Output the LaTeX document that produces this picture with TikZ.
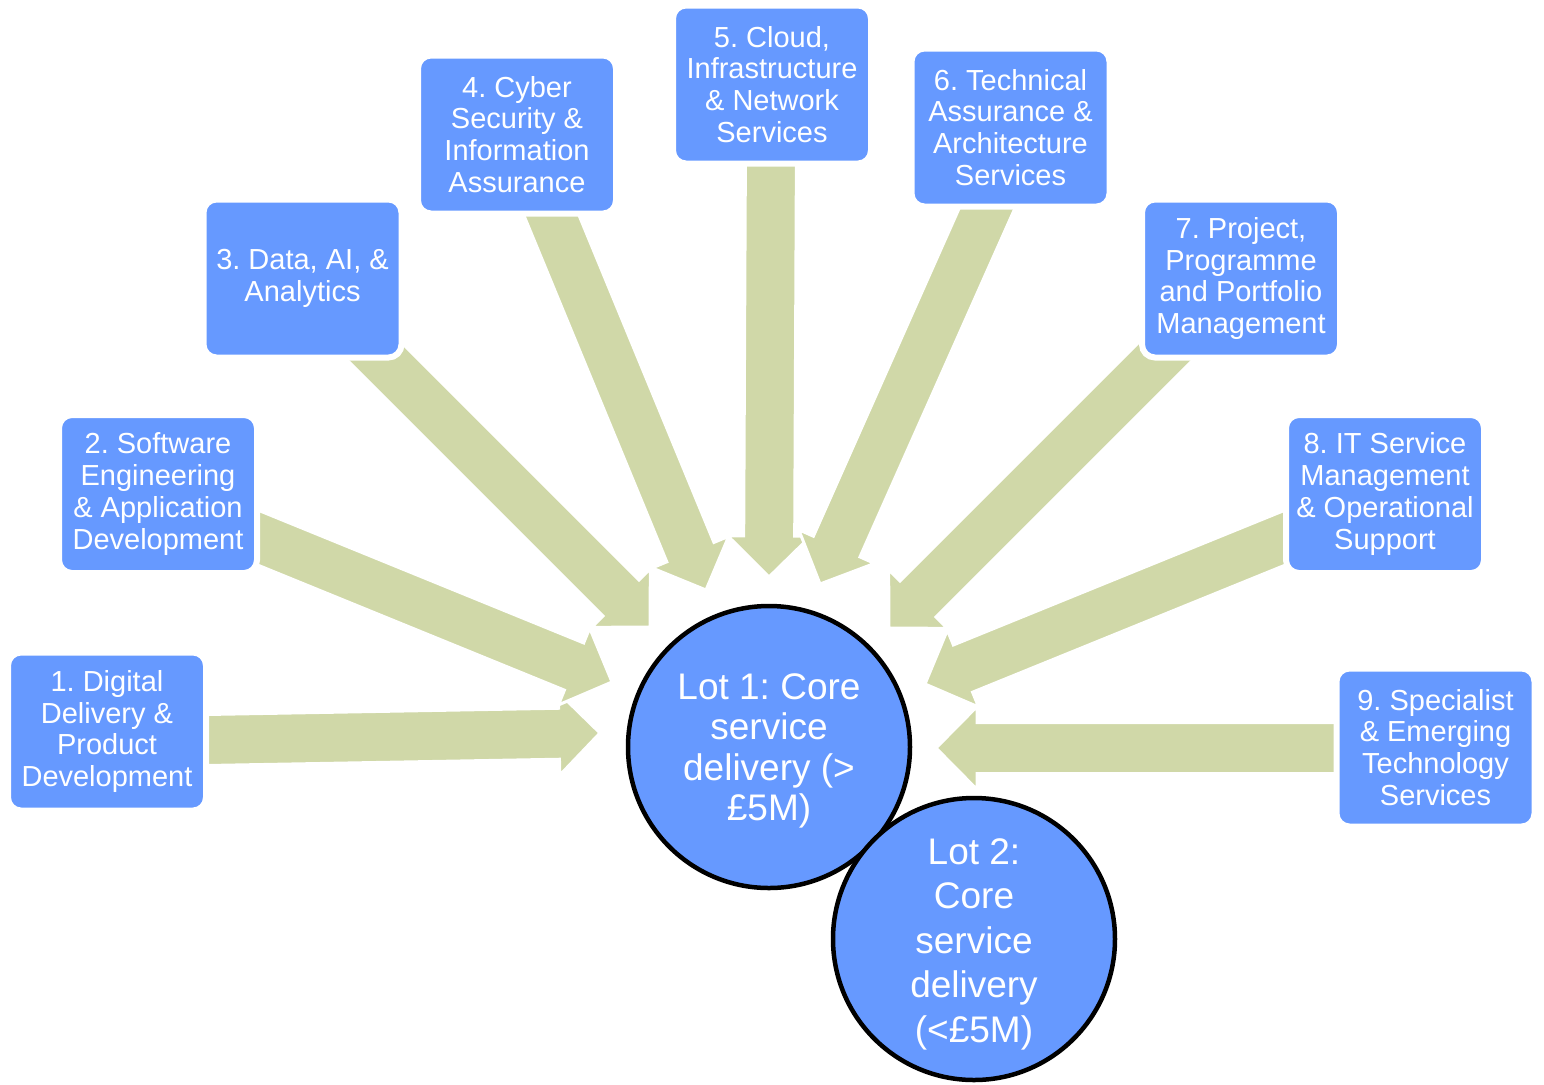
\documentclass[tikz,border=0pt]{standalone}
\usepackage{fontspec}
\setmainfont{Liberation Sans}
\usetikzlibrary{calc,backgrounds}

\definecolor{lotblue}{RGB}{102,153,255}
\definecolor{arrowgreen}{RGB}{208,216,168}

\begin{document}
\frenchspacing
\begin{tikzpicture}[x=0.5pt,y=-0.5pt,
  servicebox/.style={rectangle, rounded corners=6.5pt, fill=lotblue, draw=white,
    line width=3pt, minimum width=99pt, minimum height=79pt, inner sep=0pt,
    align=center, text=white, font=\fontsize{14.5}{15.9}\selectfont},
  lotcircle/.style={circle, fill=lotblue, draw=black, line width=2.25pt,
    minimum size=141pt, inner sep=0pt},
  lottext/.style={align=center, text=white, inner sep=0pt},
  fatarrow/.style={fill=arrowgreen, draw=white, line width=1.5pt, line join=miter,
    to path={
      ($(\tikztostart)!12.75pt!90:(\tikztotarget)$)
      -- ($(\tikztotarget)!24.14pt!-31.88:(\tikztostart)$)
      -- ($(\tikztotarget)!29.17pt!-45.35:(\tikztostart)$)
      -- (\tikztotarget)
      -- ($(\tikztotarget)!29.17pt!45.35:(\tikztostart)$)
      -- ($(\tikztotarget)!24.14pt!31.88:(\tikztostart)$)
      -- ($(\tikztostart)!12.75pt!-90:(\tikztotarget)$)
      -- cycle}}]
\useasboundingbox (0,0) rectangle (1544,1084);

\node[servicebox] (digital) at (107,731.5) {1. Digital\\Delivery \&\\Product\\Development};
\node[servicebox] (software) at (158,494) {2. Software\\Engineering\\\& Application\\Development};
\node[servicebox] (data) at (302.5,278.5) {3. Data, AI, \&\\Analytics};
\node[servicebox] (cyber) at (517,134.5) {4. Cyber\\Security \&\\Information\\Assurance};
\node[servicebox] (cloud) at (772,84.5) {5. Cloud,\\Infrastructure\\\& Network\\Services};
\node[servicebox] (techassure) at (1010.5,127.5) {6. Technical\\Assurance \&\\Architecture\\Services};
\node[servicebox] (project) at (1241,278.5) {7. Project,\\Programme\\and Portfolio\\Management};
\node[servicebox] (itservice) at (1385,494) {8. IT Service\\Management\\\& Operational\\Support};
\node[servicebox] (specialist) at (1435.5,747.5) {9. Specialist\\\& Emerging\\Technology\\Services};

\node[lotcircle, label={[lottext, yshift=-2pt, font=\fontsize{18.5}{20.25}\selectfont]center:
  Lot 1: Core\\service\\delivery (>\\£5M)}] (lotone) at (769,747) {};
\node[lotcircle, label={[lottext, yshift=-2.5pt, font=\fontsize{18.5}{22.25}\selectfont]center:
  Lot 2:\\Core\\service\\delivery\\(<£5M)}] (lottwo) at (974,939) {};

\coordinate (tail1) at (150,741);    \coordinate (tip1) at (600,733);
\coordinate (tail2) at (200,514);    \coordinate (tip2) at (612,682);
\coordinate (tail3) at (360,337);    \coordinate (tip3) at (650,627);
\coordinate (tail4) at (541,190);    \coordinate (tip4) at (706,590);
\coordinate (tail5) at (771,140);    \coordinate (tip5) at (769,577);
\coordinate (tail6) at (997.4,185);  \coordinate (tip6) at (820,584);
\coordinate (tail7) at (1175,342);   \coordinate (tip7) at (889,628);
\coordinate (tail8) at (1310,527.5); \coordinate (tip8) at (925,684);
\coordinate (tail9) at (1360,748);   \coordinate (tip9) at (936,748);

\begin{scope}[on background layer]
\draw[fatarrow] (tail1) to (tip1);
\draw[fatarrow] (tail2) to (tip2);
\draw[fatarrow] (tail3) to (tip3);
\draw[fatarrow] (tail4) to (tip4);
\draw[fatarrow] (tail5) to (tip5);
\draw[fatarrow] (tail6) to (tip6);
\draw[fatarrow] (tail7) to (tip7);
\draw[fatarrow] (tail8) to (tip8);
\draw[fatarrow] (tail9) to (tip9);
\end{scope}
\end{tikzpicture}
\end{document}
